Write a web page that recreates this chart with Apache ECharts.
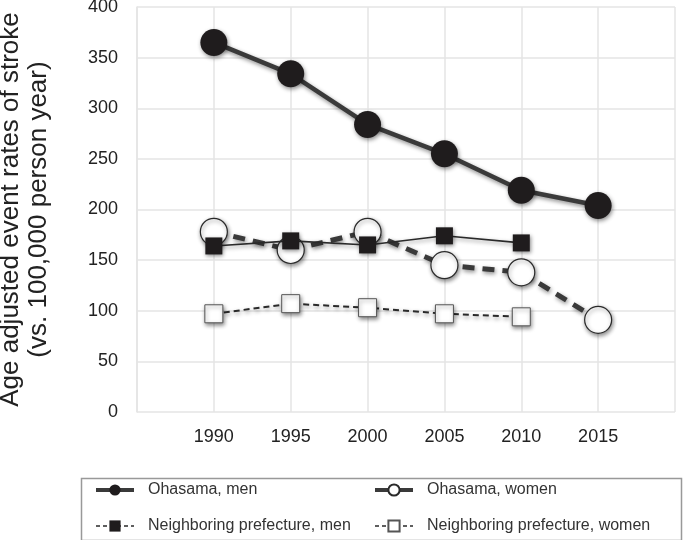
<!DOCTYPE html>
<html>
<head>
<meta charset="utf-8">
<script src="https://cdn.jsdelivr.net/npm/echarts@6/dist/echarts.min.js"></script>
<style>
html,body{margin:0;padding:0;background:#fff;}
#chart{width:685px;height:540px;}
</style>
</head>
<body>
<div id="chart"></div>
<script>
const years = [1990, 1995, 2000, 2005, 2010, 2015];
const ohasamaMen = [365, 334, 284, 255, 219, 204];
const ohasamaWomen = [178, 160, 178, 145, 138, 91];
const neighborMen = [164, 169, 165, 174, 167];
const neighborWomen = [97, 107, 103, 97, 94];
const yTicks = [0, 50, 100, 150, 200, 250, 300, 350, 400];
const seriesNames = ['Ohasama, men', 'Ohasama, women', 'Neighboring prefecture, men', 'Neighboring prefecture, women'];

function pairs(vals) { return vals.map((v, i) => [years[i], v]); }

const shadow = { shadowBlur: 4, shadowColor: 'rgba(0,0,0,0.45)', shadowOffsetX: 1, shadowOffsetY: 2 };
const legendText = { fontFamily: 'Liberation Sans, Arial', fontSize: 16, color: '#333', padding: [0, 0, 0, 9], lineHeight: 16 };
const noShadow = { shadowBlur: 0, shadowOffsetX: 0, shadowOffsetY: 0, shadowColor: 'transparent' };

const chart = echarts.init(document.getElementById('chart'), null, { renderer: 'canvas' });
chart.setOption({
  animation: false,
  backgroundColor: '#fff',
  grid: { left: 137, right: 10, top: 7, bottom: 128, show: false, containLabel: false, outerBoundsMode: 'none' },
  xAxis: {
    type: 'value', min: 1985, max: 2020, interval: 5,
    axisLine: { show: false }, axisTick: { show: false },
    axisLabel: {
      fontFamily: 'Liberation Sans, Arial', fontSize: 18, color: '#222', margin: 16,
      formatter: v => (years.indexOf(v) >= 0 ? String(v) : '')
    },
    splitLine: { show: true, lineStyle: { color: '#e4e4e4', width: 1.5 } }
  },
  yAxis: {
    type: 'value', min: yTicks[0], max: yTicks[yTicks.length - 1], interval: 50,
    name: 'Age adjusted event rates of stroke\n(vs. 100,000 person year)',
    nameLocation: 'middle', nameRotate: 90, nameGap: 84,
    nameTextStyle: { fontFamily: 'Liberation Sans, Arial', fontSize: 26, color: '#222', lineHeight: 28 },
    axisLine: { show: true, lineStyle: { color: '#e4e4e4', width: 1.5 } },
    axisTick: { show: false },
    axisLabel: { fontFamily: 'Liberation Sans, Arial', fontSize: 18, color: '#222', margin: 19 },
    splitLine: { show: true, lineStyle: { color: '#e4e4e4', width: 1.5 } }
  },
  legend: [
    {
      data: [
        { name: seriesNames[0], lineStyle: Object.assign({ width: 4, type: 'solid' }, noShadow), itemStyle: noShadow },
        { name: seriesNames[2], lineStyle: Object.assign({ width: 1.5, type: [4, 3] }, noShadow), itemStyle: noShadow }
      ],
      orient: 'vertical', left: 94, top: 482, padding: 0,
      itemWidth: 38, itemHeight: 14, itemGap: 20, textStyle: legendText
    },
    {
      data: [
        { name: seriesNames[1], lineStyle: Object.assign({ width: 4, type: 'solid' }, noShadow), itemStyle: noShadow },
        { name: seriesNames[3], lineStyle: Object.assign({ width: 1.5, type: [4, 3] }, noShadow), itemStyle: noShadow }
      ],
      orient: 'vertical', left: 373, top: 482, padding: 0,
      itemWidth: 38, itemHeight: 14, itemGap: 20, textStyle: legendText
    }
  ],
  graphic: [{
    type: 'rect', left: 79, top: 476, shape: { width: 600, height: 62 },
    style: { fill: 'none', stroke: '#999', lineWidth: 1.5 }, silent: true
  }],
  series: [
    {
      name: seriesNames[0], type: 'line', data: pairs(ohasamaMen), z: 3,
      symbol: 'circle', symbolSize: 27,
      lineStyle: Object.assign({ color: '#3a3a3a', width: 4.5, type: 'solid' }, shadow),
      itemStyle: Object.assign({ color: '#1f1c1d', borderWidth: 0 }, shadow)
    },
    {
      name: seriesNames[1], type: 'line', data: pairs(ohasamaWomen), z: 2,
      symbol: 'circle', symbolSize: 27,
      lineStyle: Object.assign({ color: '#3a3a3a', width: 5, type: [12, 8] }, shadow),
      itemStyle: Object.assign({ color: '#fff', borderColor: '#2a2a2a', borderWidth: 1.2 }, shadow)
    },
    {
      name: seriesNames[3], type: 'line', data: pairs(neighborWomen), z: 2,
      symbol: 'rect', symbolSize: 18,
      lineStyle: Object.assign({ color: '#2a2a2a', width: 2, type: [6, 4] }, shadow),
      itemStyle: Object.assign({ color: '#fff', borderColor: '#555', borderWidth: 1 }, shadow)
    },
    {
      name: seriesNames[2], type: 'line', data: pairs(neighborMen), z: 4,
      symbol: 'rect', symbolSize: 17,
      lineStyle: Object.assign({ color: '#2a2a2a', width: 1.6, type: 'solid' }, shadow),
      itemStyle: Object.assign({ color: '#1f1c1d', borderWidth: 0 }, shadow)
    }
  ]
});
</script>
</body>
</html>
